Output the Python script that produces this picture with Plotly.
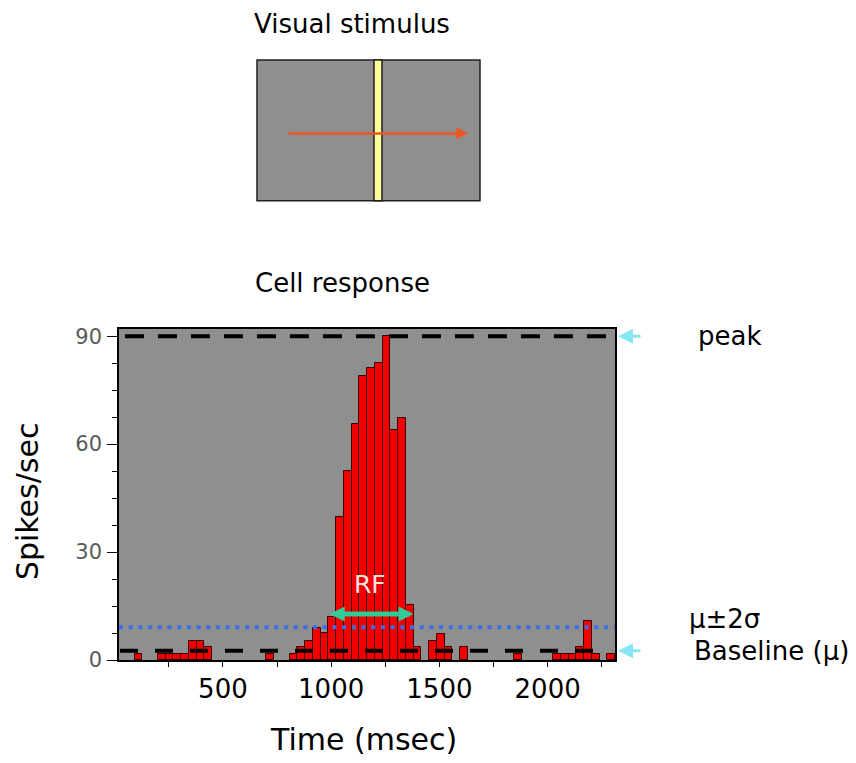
import plotly.graph_objects as go

# ---------------- data ----------------
bin_start = 20.0      # ms, left edge of first bin
bin_width = 35.8      # ms
rate = [0, 0, 1.8, 0, 0, 1.8, 1.8, 1.8, 1.8, 5.4, 5.4, 3.6,
        0, 0, 0, 0, 0, 0, 0, 1.8, 0, 0, 1.8, 3.6, 5.4, 9.0, 7.4, 12.0,
        39.8, 52.6, 65.6, 78.9, 81.1, 82.6, 90.0, 63.9, 67.3, 15.3, 3.6,
        0, 5.4, 7.2, 3.6, 0, 3.6, 0, 0, 0, 0, 0, 0, 1.8, 0, 0, 0, 0,
        1.8, 1.8, 1.8, 3.6, 10.8, 1.8, 0, 1.8]
baseline_mu = 2.6
threshold = 9.1          # mu + 2 sigma
rf_first_bin = 27
rf_last_bin = 37
rf_arrow_level = 12.8
x_tickvals = [250, 500, 750, 1000, 1250, 1500, 1750, 2000, 2250]
x_ticktext = ["", "500", "", "1000", "", "1500", "", "2000", ""]
y_tickvals = [0, 30, 60, 90]

n_bins = len(rate)
centers = [bin_start + bin_width * (i + 0.5) for i in range(n_bins)]
bx = [c for c, v in zip(centers, rate) if v > 0]
by = [v for v in rate if v > 0]
peak = max(rate)
x_end = bin_start + bin_width * n_bins
rf_x0 = bin_start + bin_width * rf_first_bin
rf_x1 = bin_start + bin_width * (rf_last_bin + 1)

FONT = "DejaVu Sans"

fig = go.Figure()
fig.add_trace(go.Bar(
    x=bx, y=by, width=bin_width,
    marker=dict(color="#f20000", line=dict(color="#3a0000", width=1)),
    showlegend=False, hoverinfo="skip"))

shapes = [
    # peak line
    dict(type="line", xref="paper", yref="y", x0=0.012, x1=0.985, y0=peak, y1=peak,
         line=dict(color="black", width=4, dash="19px,14px"), layer="above"),
    # mu + 2 sigma line
    dict(type="line", xref="paper", yref="y", x0=0.0, x1=1.0, y0=threshold, y1=threshold,
         line=dict(color="#3a6ee8", width=4, dash="4px,5.7px"), layer="above"),
    # baseline line
    dict(type="line", xref="paper", yref="y", x0=0.002, x1=0.985, y0=baseline_mu, y1=baseline_mu,
         line=dict(color="black", width=4, dash="18px,17px"), layer="above"),
    # stimulus panel
    dict(type="rect", xref="paper", yref="paper", x0=0.2782, x1=0.7278, y0=1.3871, y1=1.8127,
         fillcolor="#8f8f8f", line=dict(color="#202020", width=1.5), layer="above"),
    dict(type="rect", xref="paper", yref="paper", x0=0.5141, x1=0.5302, y0=1.3871, y1=1.8127,
         fillcolor="#ffff99", line=dict(color="#202020", width=1.5), layer="above"),
]


def label(x, y, text, size, xref="paper", yref="paper", xanchor="center", color="black", angle=0):
    return dict(x=x, y=y, xref=xref, yref=yref, text=text, showarrow=False,
                xanchor=xanchor, yanchor="middle", textangle=angle,
                font=dict(family=FONT, size=size, color=color))


annotations = [
    # RF double arrow
    dict(x=rf_x1, y=rf_arrow_level, ax=rf_x0, ay=rf_arrow_level, xref="x", yref="y",
         axref="x", ayref="y", text="", showarrow=True, arrowside="end+start",
         arrowhead=2, arrowsize=0.6, arrowwidth=5, arrowcolor="#2ecc96"),
    label((rf_x0 + rf_x1) / 2 - 5, 21.1, "RF", 25, xref="x", yref="y", color="#fbe2e2"),
    # cyan arrows at right
    dict(x=1.006, y=peak, xref="paper", yref="y", ax=24, ay=0, text="", showarrow=True,
         arrowhead=2, arrowsize=1, arrowwidth=3, arrowcolor="#86e6f2"),
    dict(x=1.006, y=baseline_mu, xref="paper", yref="y", ax=24, ay=0, text="", showarrow=True,
         arrowhead=2, arrowsize=1, arrowwidth=3, arrowcolor="#86e6f2"),
    # right side labels
    label(1.163, peak, "peak", 26, yref="y", xanchor="left"),
    label(1.145, threshold + 2.3, "μ±2σ", 26, yref="y", xanchor="left"),
    label(1.155, baseline_mu, "Baseline (μ)", 26, yref="y", xanchor="left"),
    # titles
    label(0.4698, 1.921, "Visual stimulus", 26),
    label(0.4516, 1.139, "Cell response", 26),
    label(0.492, -0.240, "Time (msec)", 30),
    label(-0.1855, 0.48, "Spikes/sec", 30, angle=-90),
    # stimulus motion arrow
    dict(x=0.704, y=1.591, xref="paper", yref="paper", ax=-181, ay=0, text="", showarrow=True,
         arrowhead=2, arrowsize=0.95, arrowwidth=2.5, arrowcolor="#ee5522"),
]

fig.update_layout(
    width=856, height=763,
    margin=dict(l=119, r=241, t=329, b=103),
    paper_bgcolor="white", plot_bgcolor="#8f8f8f",
    bargap=0, showlegend=False,
    shapes=shapes, annotations=annotations,
    font=dict(family=FONT),
)
fig.update_xaxes(
    range=[bin_start, x_end], tickmode="array", tickvals=x_tickvals, ticktext=x_ticktext,
    ticks="outside", ticklen=5, tickwidth=1, tickcolor="black",
    showline=True, linecolor="black", linewidth=1.5, mirror=True,
    showgrid=False, zeroline=False,
    tickfont=dict(family=FONT, size=26, color="black"), ticklabelstandoff=0)
fig.update_yaxes(
    range=[0, 92], tickmode="array", tickvals=y_tickvals,
    ticks="outside", ticklen=10, tickwidth=1, tickcolor="black",
    minor=dict(dtick=7.5, tick0=0, ticks="outside", ticklen=5, tickcolor="black"),
    showline=True, linecolor="black", linewidth=1.5, mirror=True,
    showgrid=False, zeroline=False,
    tickfont=dict(family=FONT, size=21, color="#5a5a5a"), ticklabelstandoff=1)

fig.write_html("out.html")
